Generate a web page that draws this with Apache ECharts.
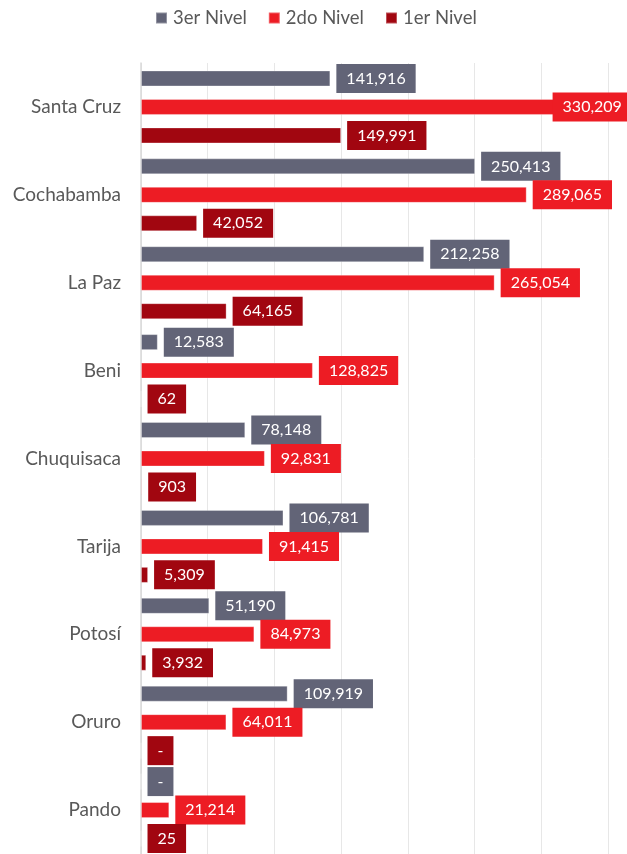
<!DOCTYPE html>
<html>
<head>
<meta charset="utf-8">
<script src="https://cdn.jsdelivr.net/npm/echarts@6/dist/echarts.min.js"></script>
<style>
  html, body { margin: 0; padding: 0; background: #ffffff; }
  #chart { width: 627px; height: 854px; }
</style>
</head>
<body>
<div id="chart"></div>
<script>
// Departamentos, de arriba hacia abajo
const departamentos = ['Santa Cruz', 'Cochabamba', 'La Paz', 'Beni', 'Chuquisaca', 'Tarija', 'Potosí', 'Oruro', 'Pando'];

// Valores por nivel
const nivel3 = [141916, 250413, 212258, 12583, 78148, 106781, 51190, 109919, 0];
const nivel2 = [330209, 289065, 265054, 128825, 92831, 91415, 84973, 64011, 21214];
const nivel1 = [149991, 42052, 64165, 62, 903, 5309, 3932, 0, 25];

const serieNombres = ['3er Nivel', '2do Nivel', '1er Nivel'];
const serieColores = ['#626477', '#ed1c24', '#a10610'];

const fontFamily = 'Lato, "Noto Sans", sans-serif';

function formatValor(v) {
  return v === 0 ? '-' : v.toLocaleString('en-US');
}

function labelStyle(color) {
  return {
    show: true,
    position: 'right',
    distance: 6,
    formatter: p => formatValor(p.value),
    color: '#ffffff',
    fontFamily: fontFamily,
    fontSize: 16,
    lineHeight: 19,
    backgroundColor: color,
    padding: [5, 10]
  };
}

function buildData(values) {
  const top = Math.max(...nivel2);
  return values.map(v => {
    // la etiqueta del valor máximo se recorre hacia la barra para caber en el área
    if (v === top) {
      return { value: v, label: { offset: [-35, 0] } };
    }
    return v;
  });
}

const seriesValores = [nivel3, nivel2, nivel1];

const chart = echarts.init(document.getElementById('chart'), null, { renderer: 'canvas' });

chart.setOption({
  animation: false,
  backgroundColor: '#ffffff',
  legend: {
    data: serieNombres,
    left: 155,
    top: 8,
    padding: 0,
    icon: 'rect',
    itemWidth: 11,
    itemHeight: 11,
    itemGap: 21,
    textStyle: { fontFamily: fontFamily, fontSize: 18.5, color: '#595959', lineHeight: 20, padding: [0, 0, 0, 1] }
  },
  grid: {
    left: 141,
    top: 63,
    width: 467,
    height: 795,
    containLabel: false
  },
  xAxis: {
    type: 'value',
    min: 0,
    max: 350000,
    interval: 50000,
    axisLabel: { show: false },
    axisLine: { show: false },
    axisTick: { show: false },
    splitLine: { show: true, lineStyle: { color: '#e7e7e7', width: 1 } }
  },
  yAxis: {
    type: 'category',
    data: departamentos,
    inverse: true,
    axisLine: { show: true, lineStyle: { color: '#d9d9d9', width: 1.5 } },
    axisTick: { show: false },
    axisLabel: { fontFamily: fontFamily, fontSize: 19, color: '#595959', margin: 20 }
  },
  series: serieNombres.map((name, i) => ({
    name: name,
    type: 'bar',
    data: buildData(seriesValores[i]),
    barWidth: 16,
    barGap: '78%',
    itemStyle: {
      color: serieColores[i],
      borderColor: 'rgba(255,255,255,0.3)',
      borderWidth: 1
    },
    label: labelStyle(serieColores[i])
  }))
});
</script>
</body>
</html>
